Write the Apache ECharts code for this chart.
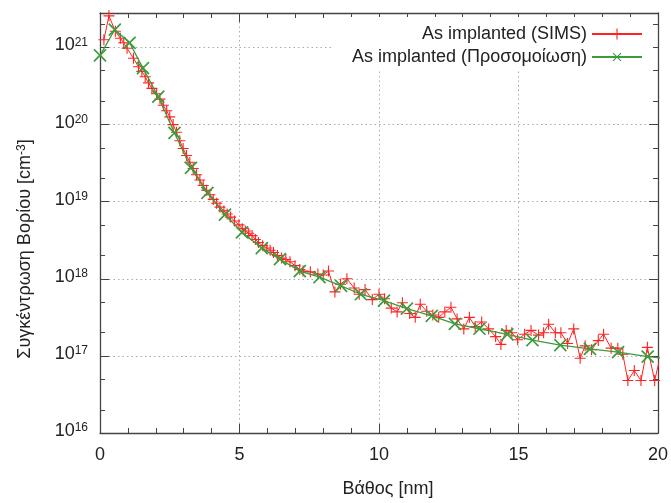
<!DOCTYPE html>
<html>
<head>
<meta charset="utf-8">
<script src="https://cdn.jsdelivr.net/npm/echarts@6/dist/echarts.min.js"></script>
<style>html,body{margin:0;padding:0;background:#fff;}#chart{width:671px;height:503px;}</style>
</head>
<body>
<div id="chart"></div>
<script>
// ---- data ----
const depthSIMS = [0.14,0.32,0.55,0.73,0.85,0.97,1.20,1.38,1.50,1.62,1.74,1.86,2.03,2.15,2.27,2.39,2.50,2.62,2.74,2.86,2.98,3.10,3.22,3.34,3.46,3.58,3.70,3.82,3.94,4.06,4.18,4.30,4.44,4.56,4.68,4.82,4.98,5.10,5.21,5.33,5.45,5.57,5.68,5.83,5.98,6.10,6.22,6.36,6.51,6.66,6.81,6.99,7.16,7.28,7.54,7.81,8.00,8.19,8.42,8.62,8.85,9.11,9.29,9.50,9.76,10.00,10.20,10.44,10.65,10.84,11.10,11.30,11.48,11.71,11.93,12.14,12.36,12.58,12.80,13.04,13.24,13.45,13.68,13.93,14.18,14.37,14.56,14.76,14.97,15.22,15.45,15.72,15.90,16.08,16.32,16.52,16.76,16.98,17.21,17.39,17.62,17.86,18.05,18.32,18.56,18.74,18.92,19.15,19.39,19.62,19.88,20.12];
const concSIMS = [1.26e21,2.57e21,1.62e21,1.32e21,1.15e21,9.77e20,7.24e20,5.62e20,4.90e20,4.17e20,3.47e20,2.95e20,2.51e20,2.14e20,1.78e20,1.51e20,1.26e20,1.00e20,7.94e19,6.17e19,4.90e19,3.98e19,3.24e19,2.69e19,2.24e19,1.91e19,1.62e19,1.41e19,1.23e19,1.07e19,9.55e18,8.51e18,7.59e18,6.92e18,6.31e18,5.62e18,5.01e18,4.47e18,4.17e18,3.89e18,3.63e18,3.24e18,2.95e18,2.69e18,2.51e18,2.34e18,2.19e18,2.00e18,1.86e18,1.78e18,1.66e18,1.48e18,1.32e18,1.26e18,1.23e18,1.15e18,1.12e18,1.26e18,6.76e17,8.51e17,1.00e18,7.59e17,6.31e17,7.24e17,5.37e17,6.31e17,5.50e17,4.17e17,3.72e17,4.90e17,3.55e17,3.16e17,4.68e17,3.80e17,3.39e17,3.16e17,3.72e17,4.27e17,3.02e17,2.24e17,3.16e17,2.40e17,2.75e17,2.24e17,1.78e17,1.41e17,2.14e17,2.00e17,1.62e17,1.91e17,2.14e17,1.86e17,2.00e17,2.57e17,2.00e17,2.00e17,1.45e17,2.24e17,9.33e16,1.35e17,1.20e17,1.58e17,1.91e17,1.26e17,1.26e17,1.05e17,4.79e16,6.46e16,4.79e16,1.29e17,4.79e16,1.12e17];
const depthSim = [0,0.53,1.06,1.54,2.09,2.67,3.26,3.85,4.48,5.09,5.80,6.45,7.16,7.87,8.64,9.35,10.18,11.0,11.89,12.72,13.6,14.6,15.5,16.5,17.56,18.57,19.63,20.7];
const concSim = [7.9e20,1.7e21,1.15e21,5.4e20,2.3e20,7.8e19,2.75e19,1.3e19,6.8e18,4.0e18,2.5e18,1.8e18,1.26e18,1.05e18,8.1e17,6.3e17,5.2e17,4.1e17,3.3e17,2.6e17,2.25e17,1.9e17,1.6e17,1.38e17,1.23e17,1.12e17,9.8e16,8.9e16];
const xTickLabels = [0,5,10,15,20];
const yMajorTicks = [1e16,1e17,1e18,1e19,1e20,1e21];
const yMinorTicks = [2e16,5e16,2e17,5e17,2e18,5e18,2e19,5e19,2e20,5e20,2e21];
const seriesNames = ['As implanted (SIMS)','As implanted (Προσομοίωση)'];

// ---- chart ----
const FONT = '"Liberation Sans", Arial, sans-serif';
const TXT = '#222';
const AX = '#444';
const plusPath = 'path://M4.5,0H5.5V4.5H10V5.5H5.5V10H4.5V5.5H0V4.5H4.5Z';

function pair(xs, ys){ return xs.map((x,i)=>[x, ys[i]]); }

const chart = echarts.init(document.getElementById('chart'), null, {renderer:'canvas'});
const yMin = 1e16, yMax = 2.8e21;

function yAxisCfg(pos, major, labels){
  return {
    type:'log', logBase:10, min:yMin, max:yMax, position:pos,
    axisLine:{show:major && labels, lineStyle:{color:AX, width:1.3}},
    axisTick:{show:true, inside:true, length: major?9:5, lineStyle:{color:AX, width:1},
      customValues: major ? yMajorTicks : yMinorTicks},
    axisLabel:{show:labels, customValues: yMajorTicks, margin:12,
      formatter: v => '{b|10}{s|' + Math.round(Math.log10(v)) + '}',
      rich:{ b:{fontSize:18, fontFamily:FONT, color:TXT, lineHeight:18, verticalAlign:'bottom'},
             s:{fontSize:12, fontFamily:FONT, color:TXT, lineHeight:12, padding:[0,0,10,0], verticalAlign:'top'} },
      padding:[0,0,4,0]
    },
    splitLine:{show: major && labels, lineStyle:{color:'#aaa', type:[1.5,3], width:1}},
    minorTick:{show:false}, minorSplitLine:{show:false},
    name: labels ? '{t|Συγκέντρωση Βορίου [cm}{u|-3}{t|]}' : '',
    nameLocation:'middle', nameGap:66, nameRotate:90,
    nameTextStyle:{ padding:[0,52,0,0],
      rich:{ t:{fontSize:18, fontFamily:FONT, color:TXT, lineHeight:18, verticalAlign:'bottom'},
             u:{fontSize:12, fontFamily:FONT, color:TXT, lineHeight:12, padding:[0,0,9,0], verticalAlign:'top'} } }
  };
}

const option = {
  animation:false,
  backgroundColor:'#fff',
  grid:{left:100, right:7, top:13, bottom:69, containLabel:false},
  legend:{
    orient:'vertical', right:18, top:17, align:'right',
    backgroundColor:'#fff', padding:[8,10,4,20],
    itemWidth:50, itemHeight:14, itemGap:5,
    textStyle:{fontSize:18, fontFamily:FONT, color:TXT},
    data: seriesNames
  },
  xAxis:[
    { type:'value', min:0, max:20, interval:5, position:'bottom',
      axisLine:{lineStyle:{color:AX, width:1.3}},
      axisTick:{inside:true, length:9, lineStyle:{color:AX}},
      minorTick:{show:true, splitNumber:5, length:5, lineStyle:{color:AX}},
      axisLabel:{fontSize:18, fontFamily:FONT, color:TXT, margin:13,
        customValues: xTickLabels},
      splitLine:{show:true, lineStyle:{color:'#aaa', type:[1.5,3], width:1}},
      name:'Βάθος [nm]', nameLocation:'middle', nameGap:47,
      nameTextStyle:{fontSize:18, fontFamily:FONT, color:TXT, padding:[0,0,0,18]}
    },
    { type:'value', min:0, max:20, interval:5, position:'top',
      axisLine:{show:true, lineStyle:{color:AX, width:1.3}},
      axisTick:{inside:true, length:9, lineStyle:{color:AX}},
      minorTick:{show:true, splitNumber:5, length:5, lineStyle:{color:AX}},
      axisLabel:{show:false}, splitLine:{show:false}
    }
  ],
  yAxis:[
    yAxisCfg('left', true, true),
    yAxisCfg('left', false, false),
    Object.assign(yAxisCfg('right', true, false), {axisLine:{show:true, lineStyle:{color:AX, width:1.3}}}),
    yAxisCfg('right', false, false)
  ],
  series:[
    { name:seriesNames[0], type:'line', xAxisIndex:0, yAxisIndex:0,
      data: pair(depthSIMS, concSIMS),
      symbol: plusPath, symbolSize:11, showAllSymbol:true,
      lineStyle:{color:'#ff2222', width:1},
      itemStyle:{color:'#ff2222'},
      emphasis:{disabled:true}, z:2
    },
    { name:seriesNames[1], type:'line', xAxisIndex:0, yAxisIndex:0,
      data: pair(depthSim, concSim),
      symbol: plusPath, symbolRotate:45, symbolSize:17, showAllSymbol:true,
      lineStyle:{color:'#3c9c3c', width:1.3},
      itemStyle:{color:'#3c9c3c'},
      emphasis:{disabled:true}, z:3
    }
  ]
};
chart.setOption(option);
</script>
</body>
</html>
